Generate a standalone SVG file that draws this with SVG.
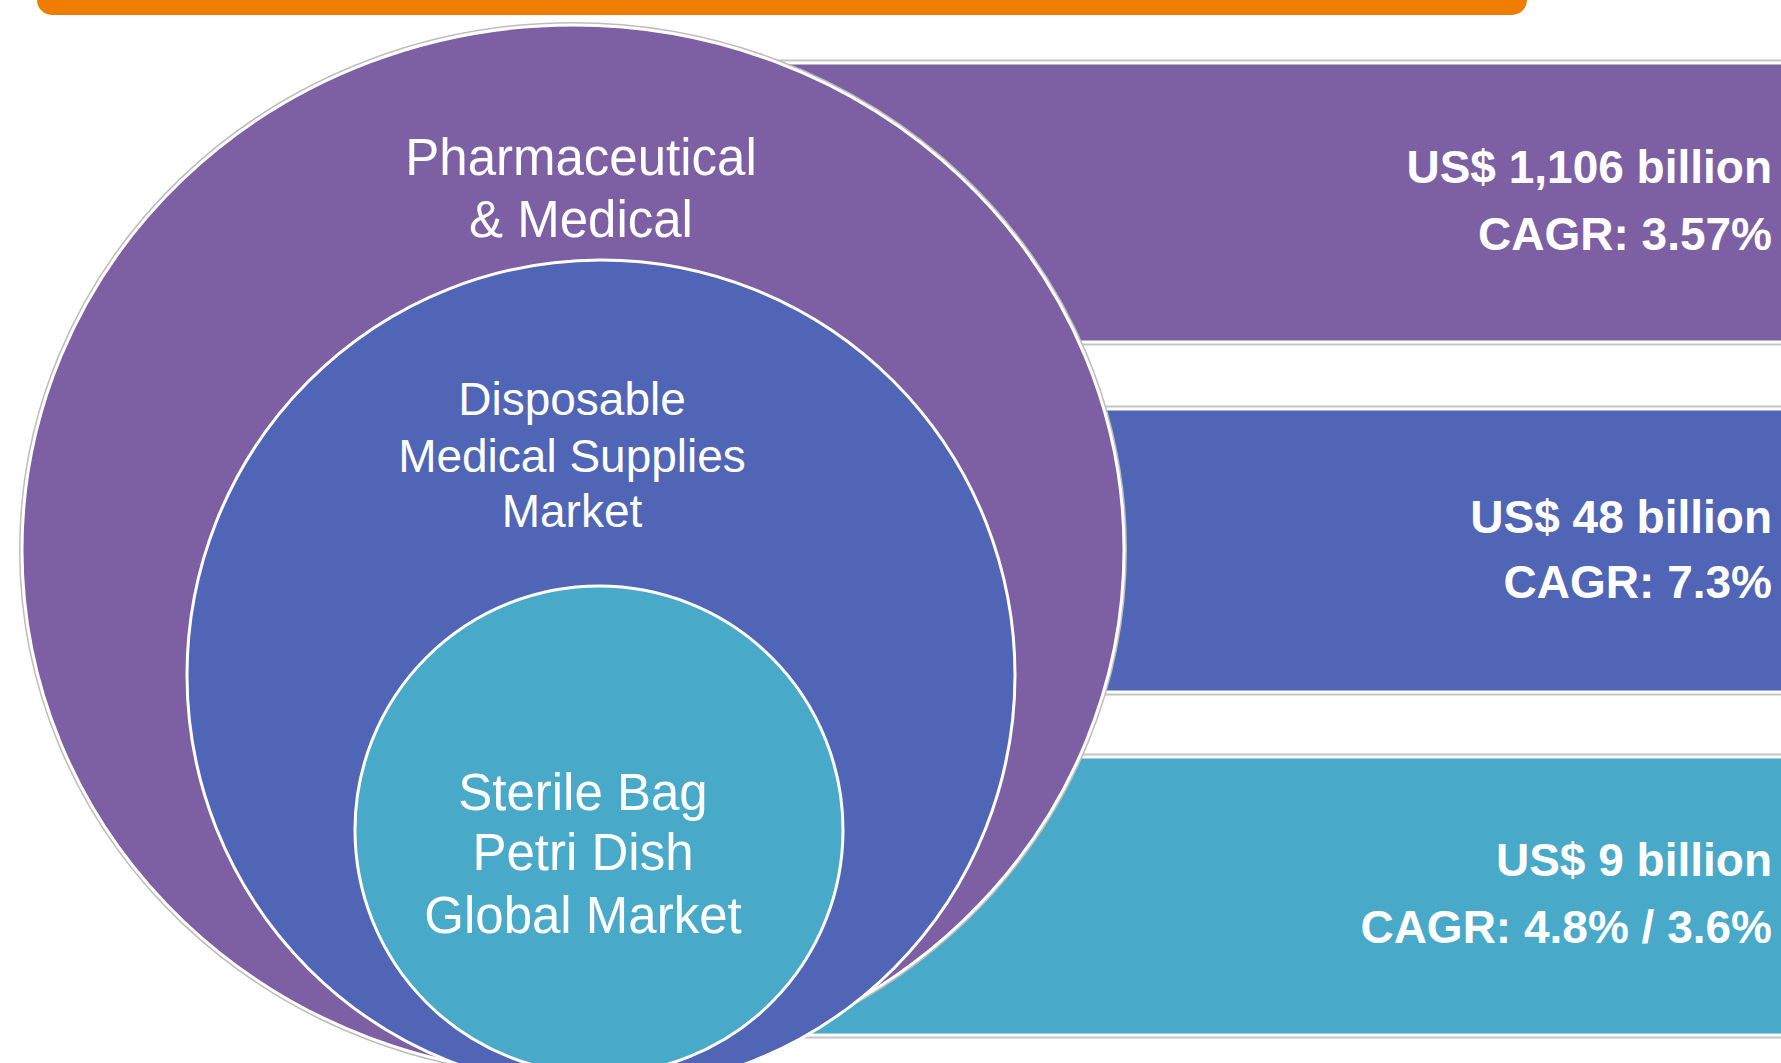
<svg xmlns="http://www.w3.org/2000/svg" width="1781" height="1063" viewBox="0 0 1781 1063">
  <style>
    .bandShadow { fill: none; stroke: #c4c4c4; stroke-width: 7; }
    .bandEdge { stroke: #ffffff; stroke-width: 3; }
    .ring { stroke: #ffffff; stroke-width: 3; }
    .ringShadow { fill: none; stroke: #bdbdbd; stroke-width: 6; }
    .lbl { font-family: "Liberation Sans", Arial, sans-serif; fill: #ffffff; text-anchor: middle; }
    .val { font-family: "Liberation Sans", Arial, sans-serif; font-weight: bold; font-size: 46px; fill: #ffffff; text-anchor: end; }
  </style>
  <rect width="1781" height="1063" fill="#ffffff"/>

  <g id="header-bar">
    <rect x="37" y="-30" width="1490" height="45" rx="15" ry="15" fill="#ee7d00"/>
  </g>

  <g id="band-pharma">
    <rect class="bandShadow" x="600" y="63" width="1200" height="279"/>
    <rect class="bandEdge" x="600" y="63" width="1200" height="279" fill="#7d60a3"/>
    <text class="val" x="1772" y="183">US$ 1,106 billion</text>
    <text class="val" x="1772" y="250">CAGR: 3.57%</text>
  </g>

  <g id="band-disposable">
    <rect class="bandShadow" x="600" y="409" width="1200" height="283"/>
    <rect class="bandEdge" x="600" y="409" width="1200" height="283" fill="#5065b5"/>
    <text class="val" x="1772" y="533">US$ 48 billion</text>
    <text class="val" x="1772" y="598">CAGR: 7.3%</text>
  </g>

  <g id="band-sterile">
    <rect class="bandShadow" x="600" y="757" width="1200" height="278"/>
    <rect class="bandEdge" x="600" y="757" width="1200" height="278" fill="#48a9c8"/>
    <text class="val" x="1772" y="876">US$ 9 billion</text>
    <text class="val" x="1772" y="943">CAGR: 4.8% / 3.6%</text>
  </g>

  <g id="circle-pharma">
    <ellipse class="ringShadow" cx="573" cy="550" rx="551" ry="525"/>
    <ellipse class="ring" cx="573" cy="550" rx="551" ry="525" fill="#7d60a3"/>
    <text class="lbl" font-size="51" x="581" y="175">Pharmaceutical</text>
    <text class="lbl" font-size="51" x="581" y="237">&amp; Medical</text>
  </g>

  <g id="circle-disposable">
    <ellipse class="ring" cx="601" cy="675" rx="414" ry="415" fill="#5065b5"/>
    <text class="lbl" font-size="46" x="572" y="415">Disposable</text>
    <text class="lbl" font-size="46" x="572" y="472">Medical Supplies</text>
    <text class="lbl" font-size="46" x="572" y="527">Market</text>
  </g>

  <g id="circle-sterile">
    <circle class="ring" cx="599" cy="830" r="244" fill="#48a9c8"/>
    <text class="lbl" font-size="51" x="583" y="810">Sterile Bag</text>
    <text class="lbl" font-size="51" x="583" y="870">Petri Dish</text>
    <text class="lbl" font-size="51" x="583" y="933">Global Market</text>
  </g>

  <g id="connectors"/>
</svg>
